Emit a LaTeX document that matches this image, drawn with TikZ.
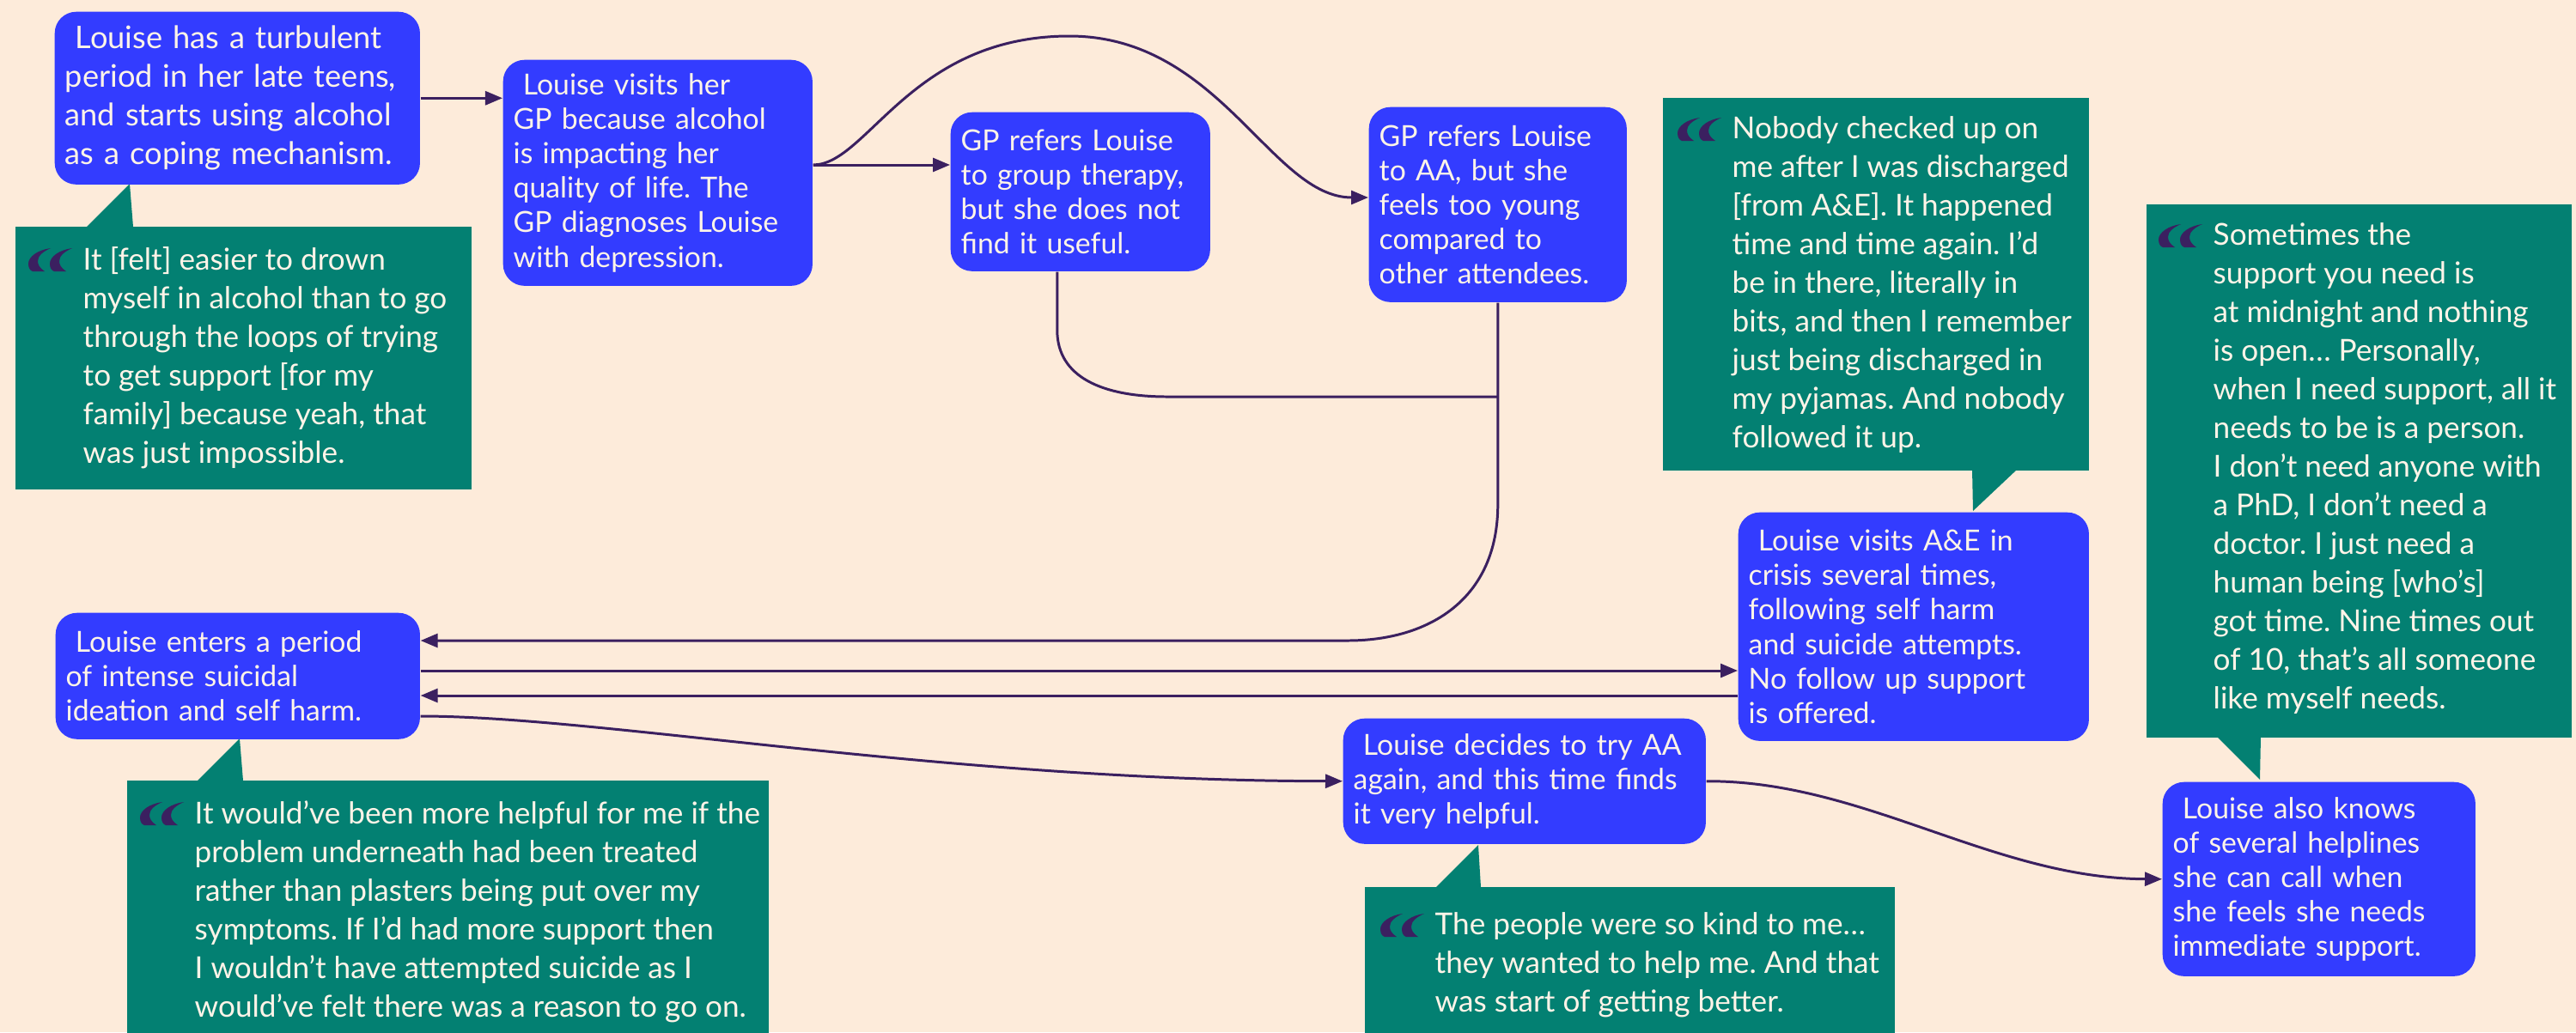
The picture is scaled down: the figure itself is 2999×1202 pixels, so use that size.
\documentclass[tikz,border=0pt]{standalone}
\usepackage{fontspec}
\setmainfont{Lato}
\frenchspacing
\usetikzlibrary{arrows.meta}
\definecolor{paper}{HTML}{FDEBDA}
\definecolor{stepblue}{HTML}{333CFF}
\definecolor{quotegreen}{HTML}{038072}
\definecolor{ink}{HTML}{3B2060}
\definecolor{paletext}{HTML}{FFF4E8}
\tikzset{box/.style={fill=stepblue, rounded corners=0.25cm, text=paletext, align=left, anchor=north west,
  inner xsep=0.12cm, inner ysep=0pt, font=\fontsize{9.6}{11.4}\selectfont},
qbox/.style={fill=quotegreen, anchor=north west, inner sep=0pt},
qtext/.style={text=paletext, align=left, anchor=north west, inner sep=0pt, font=\fontsize{10}{12.8}\selectfont},
link/.style={draw=ink, line width=0.85pt},
flow/.style={link, -{Triangle[length=0.2cm,width=0.16cm]}},
%quote mark, origin at the top left of the quote text
quotemark/.pic={
  \foreach \dx in {0,25}
  \fill[ink, xshift=\dx*0.01cm] (-37,2) .. controls (-52,4) and (-63,12) .. (-63,20) .. controls (-63,25) and (-61,28) .. (-58,29)
    -- (-44,29) .. controls (-50,25) and (-52,21) .. (-52,17) .. controls (-52,11) and (-46,6) .. (-37,2) -- cycle;
}}
\begin{document}
\begin{tikzpicture}[x=0.01cm, y=-0.01cm]
\useasboundingbox (0,0) rectangle (2999,1202);
\clip (0,0) rectangle (2999,1202);
\fill[paper] (0,0) rectangle (2999,1202);

% quote boxes
\node[qbox, minimum width=5.31cm, minimum height=3.06cm] (g1) at (17,263) {};
\fill[quotegreen] (101,264) -- (151,214) -- (155,264) -- cycle;
\node[qbox, minimum width=4.96cm, minimum height=4.34cm] (g2) at (1935,113) {};
\fill[quotegreen] (2296,546) -- (2297,595) -- (2349,546) -- cycle;
\node[qbox, minimum width=4.95cm, minimum height=6.21cm] (g3) at (2498,237) {};
\fill[quotegreen] (2580,857) -- (2631,908) -- (2632,857) -- cycle;
\node[qbox, minimum width=7.47cm, minimum height=3.40cm] (g4) at (147,908) {};
\fill[quotegreen] (230,909) -- (279,860) -- (283,909) -- cycle;
\node[qbox, minimum width=6.17cm, minimum height=2.10cm] (g5) at (1588,1032) {};
\fill[quotegreen] (1672,1033) -- (1721,984) -- (1724,1033) -- cycle;

% quotes
\node[qtext] (q1) at (96,287) {It [felt] easier to drown\\myself in alcohol than to go\\through the loops of trying\\to get support [for my\\family] because yeah, that\\was just impossible.};
\node[qtext] (q2) at (2016,135) {Nobody checked up on\\me after I was discharged\\{[}from A\&E{]}. It happened\\time and time again. I’d\\be in there, literally in\\bits, and then I remember\\just being discharged in\\my pyjamas. And nobody\\followed it up.};
\node[qtext] (q3) at (2576,259) {Sometimes the\\support you need is\\at midnight and nothing\\is open… Personally,\\when I need support, all it\\needs to be is a person.\\I don’t need anyone with\\a PhD, I don’t need a\\doctor. I just need a\\human being [who’s]\\got time. Nine times out\\of 10, that’s all someone\\like myself needs.};
\node[qtext] (q4) at (226,932) {It would’ve been more helpful for me if the\\problem underneath had been treated\\rather than plasters being put over my\\symptoms. If I’d had more support then\\I wouldn’t have attempted suicide as I\\would’ve felt there was a reason to go on.};
\node[qtext] (q5) at (1670,1062) {The people were so kind to me…\\they wanted to help me. And that\\was start of getting better.};
\foreach \q in {q1,q2,q3,q4,q5}
  \pic at (\q.north west) {quotemark};

% steps
\node[box, text width=4.01cm, minimum height=2.01cm, font=\fontsize{10.3}{12.8}\selectfont] (teens) at (63,13) {\ Louise has a turbulent\\period in her late teens,\\and starts using alcohol\\as a coping mechanism.};
\node[box, text width=3.36cm, minimum height=2.63cm] (gp) at (585,69) {\ Louise visits her\\GP because alcohol\\is impacting her\\quality of life. The\\GP diagnoses Louise\\with depression.};
\node[box, text width=2.78cm, minimum height=1.85cm] (therapy) at (1106,130) {GP refers Louise\\to group therapy,\\but she does not\\find it useful.};
\node[box, text width=2.76cm, minimum height=2.27cm] (aa) at (1593,124) {GP refers Louise\\to AA, but she\\feels too young\\compared to\\other attendees.};
\node[box, text width=3.84cm, minimum height=2.66cm] (ae) at (2023,596) {\ Louise visits A\&E in\\crisis several times,\\following self harm\\and suicide attempts.\\No follow up support\\is offered.};
\node[box, text width=3.40cm, minimum height=2.26cm] (helplines) at (2517,910) {\ Louise also knows\\of several helplines\\she can call when\\she feels she needs\\immediate support.};
\node[box, text width=4.00cm, minimum height=1.47cm] (crisis) at (64,713) {\ Louise enters a period\\of intense suicidal\\ideation and self harm.};
\node[box, text width=3.98cm, minimum height=1.46cm] (again) at (1563,836) {\ Louise decides to try AA\\again, and this time finds\\it very helpful.};

% connectors
\draw[flow] (teens.east) -- (teens.east -| gp.west);
\draw[flow] (gp.east |- 0,192) -- (therapy.west |- 0,192);
\draw[flow] (gp.east |- 0,192) .. controls (1010,192) and (1060,42) .. (1245,42) .. controls (1420,42) and (1480,230) .. (aa.west |- 0,230);
\draw[link] ([xshift=-0.27cm]therapy.south) -- ++(0,68) .. controls +(0,55) and +(-75,0) .. (1359,462) -- (aa.south |- 0,462);
\draw[flow] (aa.south) -- ++(0,235) .. controls +(0,110) and +(95,0) .. (1569,746) -- (crisis.east |- 0,746);
\draw[flow] (crisis.east |- 0,781) -- (ae.west |- 0,781);
\draw[flow] (ae.west |- 0,810) -- (crisis.east |- 0,810);
\draw[flow] (crisis.east |- 0,834) .. controls (700,834) and (1100,909) .. (again.west);
\draw[flow] (again.east) .. controls (2170,909) and (2320,1023) .. (helplines.west);
\end{tikzpicture}
\end{document}
